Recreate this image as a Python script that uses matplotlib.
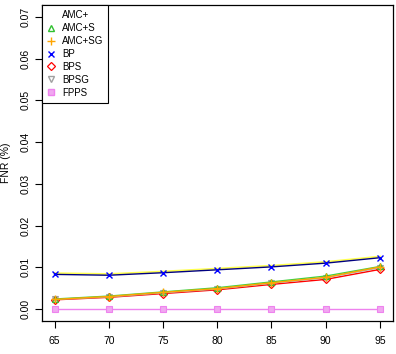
import numpy as np
import matplotlib
matplotlib.use('Agg')
import matplotlib.pyplot as plt
from matplotlib.lines import Line2D

plt.rcParams['font.family'] = ['Liberation Sans', 'DejaVu Sans']

x = [65, 70, 75, 80, 85, 90, 95]

# values (fraction)
amc = [0.0086, 0.0084, 0.0090, 0.0097, 0.0104, 0.0113, 0.0126]
amc_s = [0.0024, 0.0031, 0.0041, 0.0051, 0.0065, 0.0079, 0.0102]
amc_sg = [0.0023, 0.0030, 0.0040, 0.0049, 0.0063, 0.0076, 0.0101]
bp = [0.0083, 0.0081, 0.0087, 0.0094, 0.0101, 0.0110, 0.0123]
bps = [0.0022, 0.0028, 0.0037, 0.0046, 0.0059, 0.0071, 0.0095]
bpsg = [0.0023, 0.0029, 0.0039, 0.0048, 0.0062, 0.0075, 0.0099]
fpps = [0.0000, 0.0000, 0.0000, 0.0000, 0.0000, 0.0000, 0.0000]

labels = ['AMC+', 'AMC+S', 'AMC+SG', 'BP', 'BPS', 'BPSG', 'FPPS']

fig = plt.figure(figsize=(3.96, 3.54), dpi=100)
ax = fig.add_axes([41.5 / 396, 1 - 320.7 / 354, (393 - 41.5) / 396, (320.7 - 5.3) / 354])

ms = 4.5
ax.plot(x, fpps, color='violet', lw=1, marker='s', ms=ms, mfc='#f0a8f0', mec='violet', mew=0.8)
ax.plot(x, bps, color='red', lw=1, marker='D', ms=ms - 0.8, mfc='none', mec='red', mew=0.9)
ax.plot(x, bpsg, color='#b0b0b0', lw=1, marker='v', ms=ms, mfc='none', mec='#a0a0a0', mew=0.8)
ax.plot(x, amc_s, color='#40d040', lw=1, marker='^', ms=ms, mfc='none', mec='#30c030', mew=0.8)
ax.plot(x, amc_sg, color='orange', lw=1, marker='+', ms=ms + 1, mec='orange', mew=1)
ax.plot(x, amc, color='#ffff50', lw=1.3)
ax.plot(x, bp, color='navy', lw=1, marker='x', ms=ms, mec='blue', mew=1)

ax.set_xlim(63.8, 96.2)
ax.set_ylim(-0.0028, 0.0728)
ax.set_xticks(x)
ax.set_yticks([0.00, 0.01, 0.02, 0.03, 0.04, 0.05, 0.06, 0.07])
ax.set_yticklabels(['%.2f' % v for v in ax.get_yticks()], rotation=90, va='center')
ax.tick_params(labelsize=7.5, length=5, width=0.8, direction='out')
ax.tick_params(axis='x', pad=6)
ax.tick_params(axis='y', pad=3)
for s in ax.spines.values():
    s.set_linewidth(0.9)
ax.set_ylabel('FNR (%)', fontsize=7.5)
ax.yaxis.set_label_coords(-0.088, 0.5)

handles = [
    Line2D([], [], ls='none', marker='None'),
    Line2D([], [], ls='none', marker='^', mfc='none', mec='#30c030', ms=ms),
    Line2D([], [], ls='none', marker='+', mec='orange', ms=ms + 1, mew=1),
    Line2D([], [], ls='none', marker='x', mec='blue', ms=ms, mew=1),
    Line2D([], [], ls='none', marker='D', mfc='none', mec='red', ms=ms - 0.8, mew=0.9),
    Line2D([], [], ls='none', marker='v', mfc='none', mec='#a0a0a0', ms=ms),
    Line2D([], [], ls='none', marker='s', mfc='#f0a8f0', mec='violet', ms=ms),
]
leg = ax.legend(handles, labels, loc='upper left', bbox_to_anchor=(0, 1), borderaxespad=0,
                fontsize=7, fancybox=False, framealpha=1, edgecolor='black',
                handlelength=1.0, handletextpad=0.6, labelspacing=0.3, borderpad=0.5)
leg.get_frame().set_linewidth(0.8)

fig.savefig('out.png', dpi=100)
